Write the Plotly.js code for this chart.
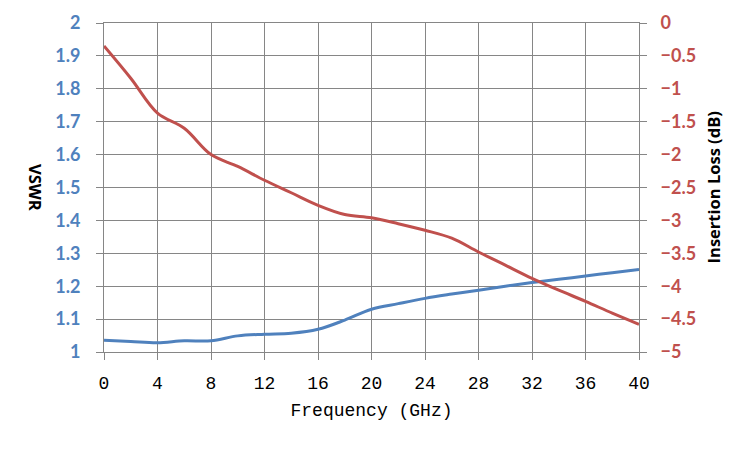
<!DOCTYPE html>
<html>
<head>
<meta charset="utf-8">
<script src="https://cdn.plot.ly/plotly-3.0.1.min.js"></script>
<style>
  body { margin: 0; background: #fff; }
  #graph { width: 750px; height: 450px; }
</style>
</head>
<body>
<div id="graph"></div>
<script>
// frequency points (GHz)
const freq = [0, 2, 4, 6, 8, 10, 12, 14, 16, 18, 20, 22, 24, 26, 28, 30, 32, 34, 36, 38, 40];

// VSWR
const vswr = [1.036, 1.032, 1.028, 1.034, 1.034, 1.049, 1.054, 1.057, 1.069, 1.097, 1.130, 1.147, 1.163, 1.176, 1.188, 1.200, 1.211, 1.221, 1.231, 1.241, 1.251];

// insertion loss (dB)
const insertionLoss = [-0.35, -0.84, -1.37, -1.60, -2.00, -2.18, -2.39, -2.58, -2.77, -2.91, -2.96, -3.05, -3.15, -3.27, -3.48, -3.68, -3.88, -4.06, -4.23, -4.41, -4.58];

const xTicks = [0, 4, 8, 12, 16, 20, 24, 28, 32, 36, 40];

document.addEventListener('DOMContentLoaded', function(event)
{
  displayPlot("graph");
});

function displayPlot(divPlot)
{
  const gridColor = '#868686';
  const blue = '#4F81BD';
  const red = '#C0504D';

  let vswrPlot = {
    name: 'VSWR',
    x: freq,
    y: vswr,
    type: 'scatter',
    mode: 'lines',
    line: { color: blue, width: 3, shape: 'spline', smoothing: 1 },
    yaxis: 'y'
  };

  let lossPlot = {
    name: 'Insertion Loss',
    x: freq,
    y: insertionLoss,
    type: 'scatter',
    mode: 'lines',
    line: { color: red, width: 3, shape: 'spline', smoothing: 1 },
    yaxis: 'y2'
  };

  let layout =
  {
    width: 750,
    height: 450,
    margin: { l: 104, r: 111, t: 23, b: 98 },
    paper_bgcolor: '#ffffff',
    plot_bgcolor: '#ffffff',
    showlegend: false,

    xaxis:
    {
      range: [0, 40],
      autorange: false,
      tickvals: xTicks,
      ticktext: xTicks.map(String),
      showgrid: true,
      gridcolor: gridColor,
      gridwidth: 1,
      showline: true,
      mirror: true,
      linecolor: gridColor,
      linewidth: 1,
      zeroline: false,
      ticks: 'outside',
      ticklen: 7,
      tickcolor: gridColor,
      ticklabelstandoff: 7,
      tickfont: { family: 'Liberation Mono, monospace', size: 18, color: '#000000' },
      title: {
        text: 'Frequency (GHz)',
        font: { family: 'Liberation Mono, monospace', size: 18, color: '#000000' },
        standoff: 10
      }
    },
    yaxis:
    {
      range: [1, 2],
      autorange: false,
      dtick: 0.1,
      showgrid: true,
      gridcolor: gridColor,
      gridwidth: 1,
      showline: true,
      mirror: true,
      linecolor: gridColor,
      linewidth: 1,
      zeroline: false,
      ticks: 'outside',
      ticklen: 7,
      tickcolor: gridColor,
      ticklabelstandoff: 12,
      tickfont: { family: 'Lato, sans-serif', size: 18, color: blue, weight: 'bold' }
    },
    yaxis2:
    {
      range: [-5, 0],
      autorange: false,
      dtick: 0.5,
      overlaying: 'y',
      side: 'right',
      showgrid: false,
      zeroline: false,
      ticks: 'outside',
      ticklen: 7,
      tickcolor: gridColor,
      ticklabelstandoff: 10,
      tickfont: { family: 'Lato, sans-serif', size: 18, color: red, weight: 'bold' }
    },
    annotations: [
      {
        text: 'VSWR',
        xref: 'paper', yref: 'paper',
        x: -0.128, y: 0.5,
        xanchor: 'center', yanchor: 'middle',
        textangle: 90,
        showarrow: false,
        font: { family: 'Open Sans, sans-serif', size: 16.5, color: '#000000', weight: 'bold' }
      },
      {
        text: 'Insertion Loss (dB)',
        xref: 'paper', yref: 'paper',
        x: 1.14, y: 0.5,
        xanchor: 'center', yanchor: 'middle',
        textangle: -90,
        showarrow: false,
        font: { family: 'Open Sans, sans-serif', size: 16.5, color: '#000000', weight: 'bold' }
      }
    ]
  };

  Plotly.newPlot(divPlot, [vswrPlot, lossPlot], layout, { displayModeBar: false, staticPlot: true });
}
</script>
</body>
</html>
